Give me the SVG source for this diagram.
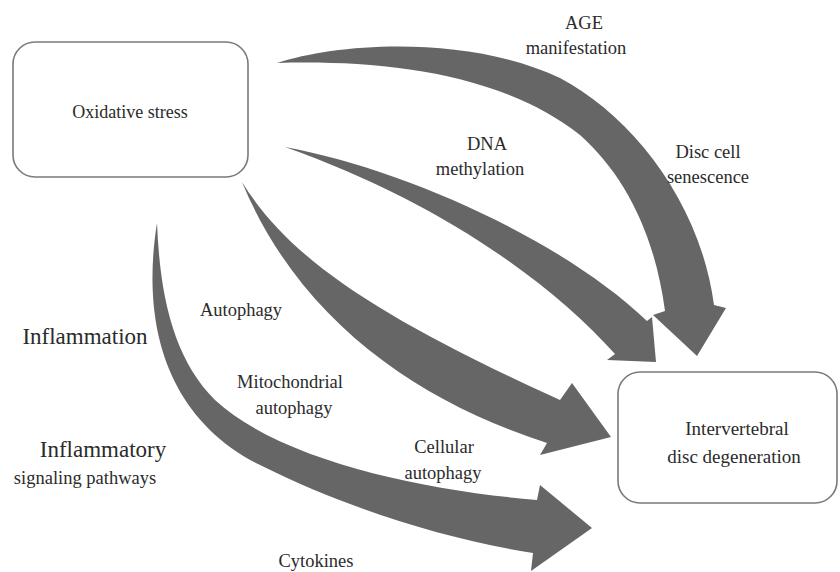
<svg xmlns="http://www.w3.org/2000/svg" width="840" height="572" viewBox="0 0 840 572">
<style>
.box{fill:#fff;stroke:#7a7a7a;stroke-width:1.6}
.arr{fill:#666}
text{font-family:"Liberation Serif","Times New Roman",serif;fill:#2b2b2b;text-anchor:middle}
.lbl{font-size:18.5px}
.big{font-size:23px}
</style>
<rect width="840" height="572" fill="#fff"/>
<g id="connectors">
<path id="age-arrow" class="arr" d="M277 63 C340 42 470 35 560 78 C630 115 700 200 714 305 L726 308 L697 356 L653 315 L665 311 C655 235 625 175 580 135 C500 72 380 60 277 63 Z"/>
<path id="dna-arrow" class="arr" d="M285 147 C400 168 560 238 647 321 L652 317 L656 362 L607 360 L615 354 C550 282 440 202 285 147 Z"/>
<path id="autophagy-arrow" class="arr" d="M242 182 C290 260 380 318 560 400 L572 383 L611 437 L540 455 L547 443 C420 402 300 322 242 182 Z"/>
<path id="inflammation-arrow" class="arr" d="M157 223 C140 330 170 420 260 465 C350 510 450 540 533 553 L531 571 L592 528 L540 485 L537 500 C420 490 280 460 215 400 C175 360 160 300 157 223 Z"/>
</g>
<g id="oxidative-stress">
<rect class="box" x="13" y="42" width="235" height="135" rx="22"/>
<text class="lbl" x="130" y="118" style="font-size:18px">Oxidative stress</text>
</g>
<g id="ivd-degeneration">
<rect class="box" x="618" y="372" width="219" height="131" rx="22"/>
<text class="lbl" x="737" y="435" style="font-size:19px">Intervertebral</text>
<text class="lbl" x="734" y="463" style="font-size:19px">disc degeneration</text>
</g>
<g id="labels">
<text class="lbl" x="584" y="29">AGE</text>
<text class="lbl" x="576" y="54">manifestation</text>
<text class="lbl" x="487" y="150">DNA</text>
<text class="lbl" x="480" y="175">methylation</text>
<text class="lbl" x="708" y="158">Disc cell</text>
<text class="lbl" x="708" y="183">senescence</text>
<text class="lbl" x="241" y="316">Autophagy</text>
<text class="lbl" x="290" y="388">Mitochondrial</text>
<text class="lbl" x="294" y="414">autophagy</text>
<text class="lbl" x="444" y="453">Cellular</text>
<text class="lbl" x="443" y="479">autophagy</text>
<text class="lbl" x="316" y="567">Cytokines</text>
<text class="big" x="85" y="344">Inflammation</text>
<text class="big" x="103" y="457">Inflammatory</text>
<text class="lbl" x="85" y="484">signaling pathways</text>
</g>
</svg>
